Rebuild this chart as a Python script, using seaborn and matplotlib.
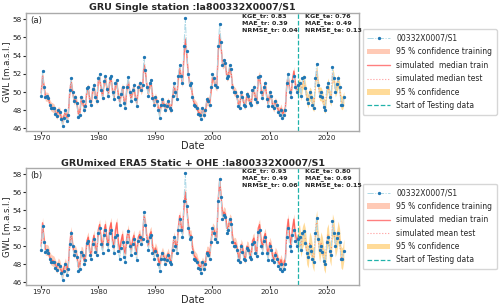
import numpy as np
import pandas as pd
import matplotlib
matplotlib.use('Agg')
import matplotlib.pyplot as plt
import matplotlib.dates as mdates
import seaborn as sns

station = '00332X0007/S1'
titles = ['GRU Single station :la800332X0007/S1',
          'GRUmixed ERA5 Static + OHE :la800332X0007/S1']
panel_tags = ['(a)', '(b)']
test_labels = ['simulated median test', 'simulated mean test']
metrics_tr = [[0.83, 0.39, 0.04], [0.93, 0.49, 0.06]]
metrics_te = [[0.76, 0.49, 0.13], [0.80, 0.69, 0.15]]
test_start = '2015-01-01'

obs = [
    49.6, 52.3, 50.5, 49.4,  49.6, 49.3, 48.6, 48.3,  48.2, 48.3, 47.6, 47.4,
    48.0, 47.8, 47.0, 46.3,  47.2, 48.0, 46.8, 47.5,  50.2, 51.5, 50.0, 49.0,
    49.5, 48.8, 47.3, 47.5,  49.4, 49.0, 48.0, 48.5,  50.4, 50.6, 49.0, 48.6,
    50.3, 50.8, 49.4, 49.0,  51.5, 52.0, 50.2, 49.3,  51.2, 51.8, 50.3, 49.6,
    51.5, 51.8, 50.0, 49.2,  51.0, 51.3, 49.5, 48.6,  49.8, 50.5, 48.8, 48.2,
    50.5, 51.7, 50.0, 49.0,  50.2, 50.8, 49.2, 48.5,  50.6, 51.0, 50.2, 50.8,
    53.8, 52.4, 50.6, 49.6,  51.0, 51.3, 49.3, 48.6,  49.5, 49.0, 48.0, 47.2,
    48.6, 49.2, 48.6, 48.0,  48.5, 49.0, 48.2, 48.0,  49.6, 51.0, 50.0, 49.2,
    51.8, 53.0, 51.8, 51.0,  55.0, 58.1, 54.5, 52.0,  50.8, 51.0, 49.4, 48.6,
    48.5, 48.3, 47.6, 47.5,  47.0, 48.2, 47.5, 48.0,  49.2, 49.0, 48.6, 50.5,
    52.0, 51.5, 50.8, 50.5,  55.0, 57.5, 55.5, 53.0,  53.5, 53.2, 51.5, 51.8,
    53.0, 52.5, 50.5, 50.0,  50.0, 49.6, 48.5, 48.3,  50.0, 49.4, 48.6, 48.5,
    49.8, 49.6, 48.8, 48.6,  50.2, 50.5, 49.2, 48.9,  51.6, 51.8, 50.0, 49.3,
    50.6, 51.0, 49.2, 48.5,  50.0, 49.6, 48.5, 48.2,  49.0, 48.6, 47.8, 47.5,
    48.0, 47.2, 47.5, 48.0,  51.0, 52.0, 50.0, 49.5,  51.2, 51.8, 50.6, 50.0,
    50.8, 51.0, 49.6, 51.5,  51.7, 50.4, 49.2, 48.8,  50.0, 49.5, 48.6, 48.3,
    51.5, 53.1, 50.8, 49.6,  50.0, 49.4, 48.4, 48.0,  50.5, 51.0, 49.5, 49.0,
    52.8, 51.5, 50.0, 50.9,  51.5, 50.5, 48.6, 48.6,  49.5,
]

# simulated median, GRU single station
sim_a = [
    49.9, 51.8, 50.6, 49.5,  49.5, 49.4, 48.7, 48.4,  48.3, 48.2, 47.8, 47.5,
    47.9, 47.8, 47.2, 46.8,  47.4, 47.8, 47.2, 47.6,  50.0, 51.2, 50.0, 49.1,
    49.3, 48.8, 47.6, 47.7,  49.2, 49.0, 48.2, 48.5,  50.2, 50.4, 49.1, 48.8,
    50.1, 50.6, 49.5, 49.1,  51.2, 51.6, 50.3, 49.5,  51.0, 51.5, 50.4, 49.7,
    51.2, 51.5, 50.1, 49.4,  50.8, 51.0, 49.7, 48.9,  49.8, 50.5, 49.0, 48.6,
    50.4, 51.3, 50.0, 49.2,  50.1, 50.6, 49.3, 48.8,  50.4, 50.8, 50.2, 50.6,
    53.0, 52.2, 50.7, 49.8,  50.8, 51.0, 49.5, 48.8,  49.4, 49.0, 48.2, 47.8,
    48.6, 49.0, 48.6, 48.2,  48.6, 48.9, 48.3, 48.2,  49.5, 50.7, 50.0, 49.4,
    51.5, 52.6, 51.7, 51.0,  54.0, 55.8, 54.0, 52.0,  50.8, 50.8, 49.5, 48.8,
    48.6, 48.4, 47.8, 47.7,  47.5, 48.0, 47.6, 48.0,  49.0, 49.0, 48.7, 50.2,
    51.6, 51.3, 50.8, 50.6,  54.5, 56.3, 55.0, 53.0,  53.2, 53.0, 51.7, 51.8,
    52.6, 52.2, 50.6, 50.1,  50.0, 49.6, 48.7, 48.5,  49.8, 49.4, 48.7, 48.6,
    49.6, 49.5, 48.9, 48.7,  50.0, 50.4, 49.3, 49.0,  51.4, 51.8, 50.2, 49.5,
    50.5, 50.8, 49.4, 48.7,  49.8, 49.5, 48.6, 48.3,  48.9, 48.6, 48.0, 47.8,
    48.2, 47.6, 47.8, 48.2,  50.8, 51.8, 50.2, 49.7,  51.4, 52.3, 50.8, 50.2,
    50.6, 50.8, 49.8, 51.0,  51.2, 50.4, 49.4, 49.0,  49.8, 49.6, 48.8, 48.6,
    51.0, 52.4, 50.8, 49.8,  49.8, 49.4, 48.6, 48.4,  50.2, 50.8, 49.6, 49.2,
    52.0, 51.4, 50.2, 50.6,  51.2, 50.4, 48.9, 48.8,  49.3,
]

# simulated median, GRUmixed ERA5 static + OHE
sim_b = [
    50.0, 52.6, 50.8, 49.6,  49.6, 49.5, 48.8, 48.5,  48.4, 48.3, 47.9, 47.6,
    48.1, 47.9, 47.3, 47.0,  47.6, 48.1, 47.4, 47.9,  50.3, 51.6, 50.2, 49.3,
    49.5, 49.0, 47.7, 47.8,  49.4, 49.3, 48.4, 48.8,  50.6, 51.0, 49.4, 49.1,
    50.5, 51.2, 49.8, 49.4,  51.8, 52.4, 50.7, 49.8,  51.6, 52.4, 50.8, 50.0,
    52.0, 52.6, 50.6, 49.8,  51.8, 52.6, 50.4, 49.5,  50.6, 51.3, 49.6, 49.2,
    51.0, 51.8, 50.4, 49.6,  50.7, 51.2, 49.8, 49.3,  51.0, 51.3, 50.6, 51.0,
    53.4, 52.6, 51.0, 50.0,  51.3, 51.6, 49.9, 49.2,  49.8, 49.4, 48.5, 48.0,
    48.9, 49.3, 48.8, 48.4,  48.8, 49.2, 48.5, 48.4,  49.8, 51.0, 50.3, 49.7,
    52.0, 53.4, 52.2, 51.4,  54.5, 56.0, 54.2, 52.4,  51.2, 51.2, 49.8, 49.0,
    48.8, 48.6, 48.0, 47.8,  47.7, 48.2, 47.8, 48.2,  49.4, 49.4, 49.0, 50.6,
    52.0, 51.8, 51.2, 51.0,  55.2, 57.3, 55.6, 53.4,  53.8, 53.6, 52.0, 52.0,
    53.0, 52.8, 50.9, 50.3,  50.4, 49.9, 48.9, 48.6,  50.2, 49.8, 48.9, 48.7,
    50.0, 49.9, 49.1, 48.9,  50.6, 50.9, 49.6, 49.2,  52.0, 52.4, 50.6, 49.8,
    51.0, 51.4, 49.8, 49.0,  50.4, 50.0, 48.9, 48.5,  49.3, 49.0, 48.3, 48.0,
    48.5, 47.9, 48.0, 48.6,  51.6, 53.0, 51.0, 50.2,  52.0, 53.0, 51.2, 50.6,
    51.0, 51.2, 50.0, 51.0,  51.5, 50.8, 49.2, 48.8,  50.4, 50.0, 48.9, 48.4,
    51.8, 52.8, 50.6, 49.4,  50.4, 49.8, 48.6, 48.2,  50.8, 51.3, 49.6, 49.0,
    52.4, 51.8, 50.0, 50.6,  51.6, 50.8, 48.8, 48.6,  49.6,
]

# half width of the 95 % band, train / test
ci_train = [0.5, 0.6]
ci_test = [0.75, 1.2]

dates = pd.date_range('1970-01-01', periods=len(obs), freq='QS')

sns.set_style('white')
plt.rcParams['font.family'] = ['DejaVu Sans']

fig = plt.figure(figsize=(5, 3.07), dpi=100)
axes = [fig.add_axes([0.052, 0.573, 0.666, 0.385]),
        fig.add_axes([0.052, 0.072, 0.666, 0.381])]

for i, (ax, sim) in enumerate(zip(axes, [sim_a, sim_b])):
    df = pd.DataFrame({'Date': dates, 'obs': obs, 'sim': sim})
    tr = df[df['Date'] <= test_start]
    te = df[df['Date'] >= test_start]

    sns.lineplot(x='Date', y='obs', data=df, ax=ax, color='lightblue',
                 linestyle='-.', lw=0.7, marker='o', markersize=1.6,
                 markerfacecolor='tab:blue', markeredgecolor='tab:blue',
                 label=station, zorder=5)
    ax.fill_between(tr['Date'], tr['sim'] - ci_train[i], tr['sim'] + ci_train[i],
                    color='lightsalmon', alpha=0.55, lw=0,
                    label='95 % confidence training')
    sns.lineplot(x='Date', y='sim', data=tr, ax=ax, color='red', alpha=0.5,
                 lw=1, label='simulated  median train')
    sns.lineplot(x='Date', y='sim', data=te, ax=ax, color='red', alpha=0.4,
                 lw=0.8, linestyle=':', label=test_labels[i])
    ax.fill_between(te['Date'], te['sim'] - ci_test[i], te['sim'] + ci_test[i],
                    color='orange', alpha=0.4, lw=0, label='95 % confidence')
    ax.axvline(pd.Timestamp(test_start), color='lightseagreen', ls='--',
               lw=0.9, label='Start of Testing data')

    ax.set_title(titles[i], fontsize=6.8, fontweight='bold', pad=2)
    ax.set_ylabel('GWL [m.a.s.l.]', fontsize=6.2, labelpad=1)
    ax.set_xlabel('Date', fontsize=7, labelpad=0)
    ax.set_yticks([46, 48, 50, 52, 54, 56, 58])
    ax.xaxis.set_major_locator(mdates.YearLocator(10))
    ax.xaxis.set_major_formatter(mdates.DateFormatter('%Y'))
    ax.tick_params(labelsize=5.2, length=2, pad=1, bottom=True, left=True)
    for s in ax.spines.values():
        s.set_color('#aaaaaa')
        s.set_linewidth(1)

    ax.text(0.012, 0.97, panel_tags[i], transform=ax.transAxes, fontsize=6.2,
            va='top', ha='left')
    kt, mt, nt = metrics_tr[i]
    ax.text(0.648, 0.995, f'KGE_tr: {kt:.2f}\nMAE_tr: {mt:.2f}\nNRMSE_tr: {nt:.2f}',
            transform=ax.transAxes, fontsize=4.6, fontweight='bold',
            va='top', ha='left', linespacing=1.25)
    ke, me, ne = metrics_te[i]
    ax.text(0.838, 0.995, f'KGE_te: {ke:.2f}\nMAE_te: {me:.2f}\nNRMSE_te: {ne:.2f}',
            transform=ax.transAxes, fontsize=4.6, fontweight='bold',
            va='top', ha='left', linespacing=1.25)

    ax.legend(loc='center left', bbox_to_anchor=(1.0, 0.5), fontsize=5.5,
              frameon=True, labelspacing=0.58, handlelength=3.0,
              borderpad=0.6, handletextpad=0.8)

fig.savefig('out.png', dpi=100)
